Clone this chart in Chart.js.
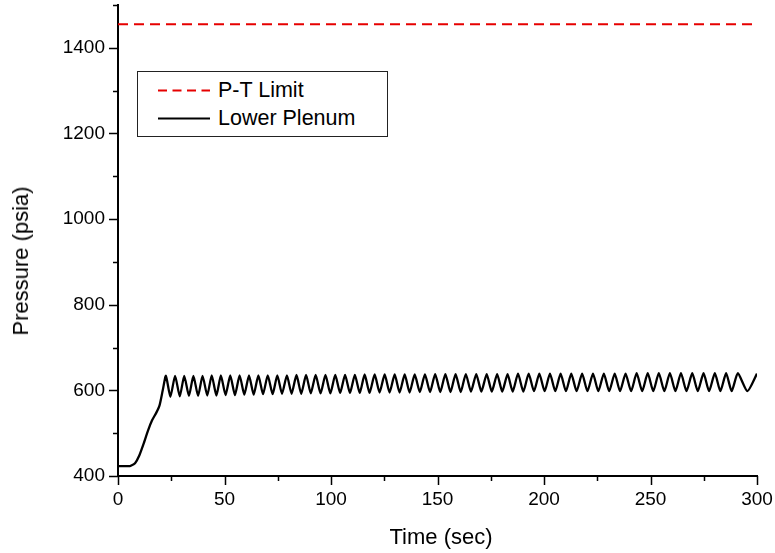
<!DOCTYPE html>
<html>
<head>
<meta charset="utf-8">
<script src="https://cdn.jsdelivr.net/npm/chart.js@4/dist/chart.umd.min.js"></script>
<style>
  html, body { margin: 0; padding: 0; background: #fff; }
  #wrap { position: relative; width: 775px; height: 553px; font-family: "Liberation Sans", Arial, sans-serif; color: #000; }
  #legend {
    position: absolute; left: 137px; top: 71px; width: 251px; height: 66px;
    border: 1px solid #222; background: #fff; box-sizing: border-box; font-size: 21.5px;
  }
  .row { position: absolute; left: 0; height: 26px; line-height: 26px; white-space: nowrap; }
  .row .sample { position: absolute; left: 20px; width: 52px; }
  .row .label { position: absolute; left: 80px; top: 0; }
  .axis-title { position: absolute; font-size: 22px; white-space: nowrap; line-height: 26px; }
  #ytitle { left: 21px; top: 261px; transform: translate(-50%, -50%) rotate(-90deg); }
  #xtitle { left: 441px; top: 537px; transform: translate(-50%, -50%); }
</style>
</head>
<body>
<div id="wrap">
  <canvas id="c" width="775" height="553"></canvas>
  <div class="axis-title" id="ytitle">Pressure (psia)</div>
  <div class="axis-title" id="xtitle">Time (sec)</div>
  <div id="legend">
    <div class="row" style="top:5px">
      <svg class="sample" width="52" height="3" style="top:12px;height:3px;overflow:visible"><line x1="0" y1="1.5" x2="52" y2="1.5" stroke="#e60000" stroke-width="2" stroke-dasharray="9,5.5"/></svg>
      <span class="label">P-T Limit</span>
    </div>
    <div class="row" style="top:33px">
      <svg class="sample" width="52" height="3" style="top:12px;height:3px;overflow:visible"><line x1="0" y1="1.5" x2="52" y2="1.5" stroke="#000" stroke-width="2"/></svg>
      <span class="label">Lower Plenum</span>
    </div>
  </div>
</div>
<script>
// --- DATA ---
const xTicks = [0, 50, 100, 150, 200, 250, 300];
const yTicks = [400, 600, 800, 1000, 1200, 1400];

// P-T limit (flat dashed line)
const ptTime = [0, 300];
const ptPressure = [1455, 1455];

// Lower plenum pressure: start-up ramp then the sawtooth oscillation
const lpTime = [
  0, 5, 6, 8, 10, 12, 14, 16, 18, 19.5, 21, 22.5,
  24.6, 26.8, 29.0, 31.1, 33.3, 35.4, 37.6, 39.7, 41.9, 44.0, 46.2, 48.3, 50.5, 52.7,
  54.9, 57.1, 59.3, 61.5, 63.7, 65.9, 68.1, 70.3, 72.6, 74.8, 77.0, 79.3, 81.5, 83.8,
  86.0, 88.3, 90.5, 92.8, 95.1, 97.4, 99.7, 102.0, 104.3, 106.6, 108.9, 111.2, 113.5, 115.8,
  118.1, 120.5, 122.8, 125.2, 127.5, 129.9, 132.2, 134.6, 136.9, 139.3, 141.7, 144.1, 146.5,
  148.9, 151.3, 153.7, 156.1, 158.5, 160.9, 163.3, 165.7, 168.2, 170.6, 173.1, 175.5, 178.0,
  180.4, 182.9, 185.3, 187.8, 190.3, 192.8, 195.3, 197.8, 200.3, 202.8, 205.3, 207.8, 210.3,
  212.8, 215.3, 217.9, 220.4, 223.0, 225.5, 228.1, 230.6, 233.2, 235.7, 238.3, 240.9, 243.5,
  246.1, 248.7, 251.3, 253.9, 256.5, 259.1, 261.7, 264.3, 266.9, 269.6, 272.2, 274.9, 277.5,
  280.2, 282.8, 285.5, 288.1, 291.0, 295.5, 300
];
const lpPressure = [
  423, 423, 424, 430, 448, 475, 505, 530, 548, 565, 600, 634,
  585, 634, 586, 634, 587, 634, 587, 634, 588, 635, 588, 635, 589, 635,
  589, 635, 590, 635, 590, 635, 591, 635, 591, 635, 592, 635, 592, 636,
  592, 636, 593, 636, 593, 636, 593, 636, 594, 636, 594, 636, 594, 637,
  594, 637, 595, 637, 595, 637, 595, 637, 595, 637, 596, 637, 596,
  638, 596, 638, 596, 638, 596, 638, 597, 638, 597, 638, 597, 638,
  597, 638, 597, 639, 597, 639, 598, 639, 598, 639, 598, 639, 598,
  639, 598, 639, 598, 639, 598, 639, 598, 639, 598, 639, 598, 640,
  598, 640, 598, 640, 598, 640, 598, 640, 598, 640, 598, 640, 598,
  640, 598, 640, 598, 640, 598, 639
];

const FONT = '"Liberation Sans", Arial, sans-serif';

// outward major/minor ticks like the original plot
const tickPlugin = {
  id: 'axisTicks',
  afterDraw(chart) {
    const ctx = chart.ctx;
    const xs = chart.scales.x, ys = chart.scales.y;
    const area = chart.chartArea;
    ctx.save();
    ctx.strokeStyle = '#000';
    ctx.lineWidth = 1.5;
    ctx.beginPath();
    for (let v = 0; v <= 300; v += 25) {
      const px = Math.round(xs.getPixelForValue(v)) + 0.5;
      const len = v % 50 === 0 ? 9 : 5;
      ctx.moveTo(px, area.bottom);
      ctx.lineTo(px, area.bottom + len);
    }
    for (let v = 400; v <= 1500; v += 100) {
      const py = Math.round(ys.getPixelForValue(v)) + 0.5;
      const len = v % 200 === 0 ? 9 : 5;
      ctx.moveTo(area.left, py);
      ctx.lineTo(area.left - len, py);
    }
    ctx.stroke();
    ctx.restore();
  }
};

new Chart(document.getElementById('c'), {
  type: 'line',
  data: {
    datasets: [
      {
        label: 'P-T Limit',
        data: ptTime.map((t, i) => ({ x: t, y: ptPressure[i] })),
        borderColor: '#e60000',
        borderWidth: 2,
        borderDash: [10, 6],
        pointRadius: 0,
        tension: 0
      },
      {
        label: 'Lower Plenum',
        data: lpTime.map((t, i) => ({ x: t, y: lpPressure[i] })),
        borderColor: '#000',
        borderWidth: 2.3,
        pointRadius: 0,
        tension: 0.2
      }
    ]
  },
  options: {
    responsive: false,
    animation: false,
    layout: { padding: { top: 5, right: 18, bottom: 0, left: 0 } },
    plugins: { legend: { display: false }, tooltip: { enabled: false } },
    scales: {
      x: {
        type: 'linear', min: 0, max: 300,
        afterBuildTicks: s => { s.ticks = xTicks.map(v => ({ value: v })); },
        afterFit: s => { s.height = 77; s.paddingLeft = 0; s.paddingRight = 0; },
        grid: { display: false, drawTicks: false },
        border: { display: true, color: '#000', width: 2 },
        ticks: { color: '#000', padding: 12, font: { family: FONT, size: 19 }, callback: v => String(v) }
      },
      y: {
        type: 'linear', min: 400, max: 1500,
        afterBuildTicks: s => { s.ticks = yTicks.map(v => ({ value: v })); },
        afterFit: s => { s.width = 118; s.paddingTop = 0; s.paddingBottom = 0; },
        grid: { display: false, drawTicks: false },
        border: { display: true, color: '#000', width: 2 },
        ticks: { color: '#000', padding: 13, font: { family: FONT, size: 19 }, callback: v => String(v) }
      }
    }
  },
  plugins: [tickPlugin]
});
</script>
</body>
</html>
